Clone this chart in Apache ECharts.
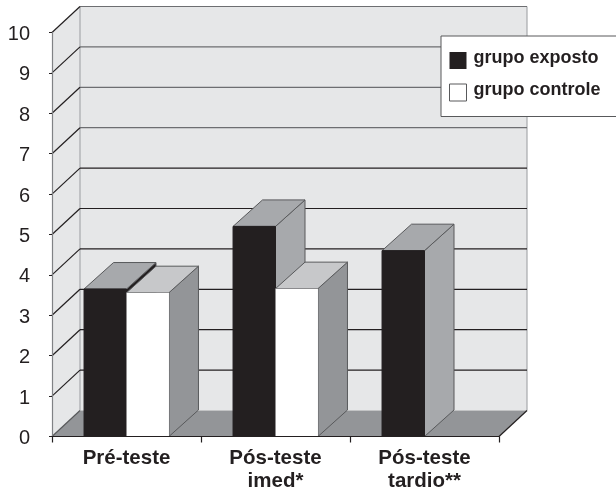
<!DOCTYPE html>
<html>
<head>
<meta charset="utf-8">
<style>html,body{margin:0;padding:0;background:#fff}#c{width:616px;height:488px}</style>
<script src="https://cdn.jsdelivr.net/npm/echarts@6/dist/echarts.min.js"></script>
</head>
<body>
<div id="c"></div>
<script>
const categories = ['Pré-teste', 'Pós-teste\nimed*', 'Pós-teste\ntardio**'];
const grupoExposto = [3.65, 5.2, 4.6];
const grupoControle = [3.56, 3.66, null];
const yTicks = [0, 1, 2, 3, 4, 5, 6, 7, 8, 9, 10];

const ink = '#231f20';
const wallFill = '#e6e7e8';
const floorFill = '#939598';
const wallDepthX = 28, wallDepthY = 26;
const barDepthX = 29.5, barDepthY = 26.5;
const barShare = 0.285;

function poly(points, fill, stroke, width) {
  return { type: 'polygon', shape: { points }, style: { fill, stroke: stroke || 'none', lineWidth: width == null ? 1 : width } };
}
function seg(x1, y1, x2, y2, stroke) {
  return { type: 'line', shape: { x1, y1, x2, y2 }, style: { stroke, lineWidth: 1.2 } };
}

function renderWalls(params, api) {
  const cs = params.coordSys;
  const t = api.value(1);
  const y = api.coord([0, t])[1];
  const L = cs.x, R = cs.x + cs.width, dx = wallDepthX, dy = wallDepthY;
  const children = [];
  if (params.dataIndex === 0) {
    const B = cs.y + cs.height, T = cs.y;
    children.push(poly([[L + dx, B - dy], [R + dx, B - dy], [R + dx, T - dy], [L + dx, T - dy]], wallFill, 'none'));
    children.push(poly([[L, B], [L + dx, B - dy], [L + dx, T - dy], [L, T]], wallFill, 'none'));
    children.push(seg(L + dx, B - dy, L + dx, T - dy, '#a7a9ac'));
    children.push(seg(R + dx, B - dy, R + dx, T - dy, '#a7a9ac'));
    children.push(poly([[L, B], [R, B], [R + dx, B - dy], [L + dx, B - dy]], floorFill, 'none'));
    children.push(seg(R, B, R + dx, B - dy, ink));
    children.push(seg(L, B, L + dx, B - dy, '#58595b'));
  } else {
    const color = t >= 7 ? '#6d6e71' : ink;
    children.push(seg(L + dx, y - dy, R + dx, y - dy, color));
    children.push(seg(L, y, L + dx, y - dy, ink));
  }
  return { type: 'group', children };
}

function makeBarRenderer(side, frontFill, topFill, sideFill) {
  return function (params, api) {
    const v = api.value(1);
    if (v == null || isNaN(v)) return null;
    const c = api.coord([api.value(0), v]);
    const base = api.coord([api.value(0), 0]);
    const band = api.size([1, 0])[0];
    const w = band * barShare;
    const x0 = side < 0 ? c[0] - w : c[0];
    const x1 = x0 + w;
    const yT = c[1], yB = base[1];
    const dx = barDepthX, dy = barDepthY;
    const edge = '#58595b';
    // the first exposed bar shows a dark sliver where it rises above its neighbour
    const thisSide = (side < 0 && params.dataIndex === 0) ? ink : sideFill;
    return {
      type: 'group',
      children: [
        poly([[x1, yB], [x1 + dx, yB - dy], [x1 + dx, yT - dy], [x1, yT]], thisSide, edge),
        poly([[x0, yT], [x1, yT], [x1 + dx, yT - dy], [x0 + dx, yT - dy]], topFill, edge),
        poly([[x0, yB], [x1, yB], [x1, yT], [x0, yT]], frontFill, side < 0 ? ink : 'none')
      ]
    };
  };
}

const chart = echarts.init(document.getElementById('c'), null, { renderer: 'canvas' });
chart.setOption({
  animation: false,
  backgroundColor: '#fff',
  grid: { left: 52, right: 117, top: 32.5, bottom: 51.5, outerBoundsMode: 'none' },
  legend: {
    orient: 'vertical',
    left: 441, top: 36,
    padding: [13, 20, 15, 8],
    itemGap: 12,
    itemWidth: 17, itemHeight: 17,
    icon: 'rect',
    backgroundColor: '#fff',
    borderColor: '#58595b',
    borderWidth: 1,
    formatter: name => '{t|' + name + '}',
    textStyle: {
      rich: { t: { fontFamily: 'Liberation Sans', fontWeight: 'bold', fontSize: 18, color: ink, padding: [0, 0, 5, 2] } }
    },
    data: [
      { name: 'grupo exposto', itemStyle: { color: ink, borderWidth: 0 } },
      { name: 'grupo controle', itemStyle: { color: '#fff', borderColor: '#58595b', borderWidth: 1 } }
    ]
  },
  xAxis: {
    type: 'category',
    data: categories,
    z: 10,
    axisLine: { lineStyle: { color: ink, width: 1.2 } },
    axisTick: { show: true, alignWithLabel: false, length: 6, lineStyle: { color: ink, width: 1.2 } },
    axisLabel: {
      interval: 0, margin: 10,
      fontFamily: 'Liberation Sans', fontWeight: 'bold', fontSize: 20.5, lineHeight: 23, color: ink
    },
    splitLine: { show: false }
  },
  yAxis: {
    type: 'value',
    min: 0, max: 10, interval: 1,
    z: 10,
    axisLine: { show: true, lineStyle: { color: '#808285', width: 1.2 } },
    axisTick: { show: true, length: 3, lineStyle: { color: ink, width: 1 } },
    axisLabel: {
      margin: 22,
      formatter: v => '{v|' + v + '}',
      rich: { v: { fontFamily: 'Liberation Sans', fontSize: 20, color: ink, padding: [4, 0, 0, 0] } }
    },
    splitLine: { show: false }
  },
  series: [
    { type: 'custom', name: 'parede', z: 1, silent: true, clip: false,
      encode: { x: 0, y: 1 },
      renderItem: renderWalls,
      data: yTicks.map(t => [0, t]) },
    { type: 'custom', name: 'grupo exposto', z: 2, silent: true, clip: false,
      itemStyle: { color: ink },
      encode: { x: 0, y: 1 },
      renderItem: makeBarRenderer(-1, ink, '#a7a9ac', '#a7a9ac'),
      data: grupoExposto.map((v, i) => [i, v]) },
    { type: 'custom', name: 'grupo controle', z: 3, silent: true, clip: false,
      itemStyle: { color: '#fff' },
      encode: { x: 0, y: 1 },
      renderItem: makeBarRenderer(1, '#ffffff', '#c7c8ca', '#939598'),
      data: grupoControle.map((v, i) => [i, v]) }
  ]
});
</script>
</body>
</html>
